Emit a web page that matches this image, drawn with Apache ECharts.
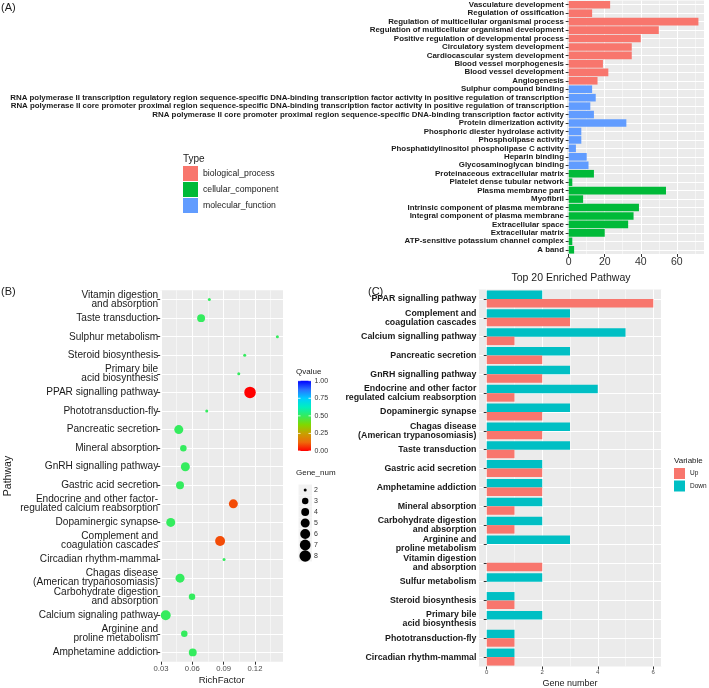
<!DOCTYPE html>
<html><head><meta charset="utf-8">
<script src="https://cdn.jsdelivr.net/npm/echarts@6/dist/echarts.min.js"></script>
<style>html,body{margin:0;padding:0;background:#fff}#c{width:709px;height:688px}</style>
</head><body><div id="c"></div>
<script>
// ---------- Panel A data ----------
const termsA = [
  'Vasculature development','Regulation of ossification','Regulation of multicellular organismal process',
  'Regulation of multicellular organismal development','Positive regulation of developmental process',
  'Circulatory system development','Cardiocascular system development','Blood vessel morphogenesis',
  'Blood vessel development','Angiogenesis','Sulphur compound binding',
  'RNA polymerase II transcription regulatory region sequence-specific DNA-binding transcription factor activity in positive regulation of transcription',
  'RNA polymerase II core promoter proximal region sequence-specific DNA-binding transcription factor activity in positive regulation of transcription',
  'RNA polymerase II core promoter proximal region sequence-specific DNA-binding transcription factor activity',
  'Protein dimerization activity','Phosphoric diester hydrolase activity','Phospholipase activity',
  'Phosphatidylinositol phospholipase C activity','Heparin binding','Glycosaminoglycan binding',
  'Proteinaceous extracellular matrix','Platelet dense tubular network','Plasma membrane part','Myofibril',
  'Intrinsic component of plasma membrane','Integral component of plasma membrane','Extracellular space',
  'Extracellular matrix','ATP-sensitive potassium channel complex','A band'
];
const countsA = [23,13,72,50,40,35,35,19,22,16,13,15,12,14,32,7,7,4,10,11,14,2,54,8,39,36,33,20,2,3];
const typesA = ['BP','BP','BP','BP','BP','BP','BP','BP','BP','BP',
  'MF','MF','MF','MF','MF','MF','MF','MF','MF','MF',
  'CC','CC','CC','CC','CC','CC','CC','CC','CC','CC'];
const typeKeys = ['BP','CC','MF'];
const typeNames = ['biological_process','cellular_component','molecular_function'];
const typeColors = ['#F8766D','#00BA38','#619CFF'];

// ---------- Panel B data ----------
const pathwaysB = [
  'Vitamin digestion\nand absorption','Taste transduction','Sulphur metabolism','Steroid biosynthesis',
  'Primary bile\nacid biosynthesis','PPAR signalling pathway','Phototransduction-fly','Pancreatic secretion',
  'Mineral absorption','GnRH signalling pathway','Gastric acid secretion',
  'Endocrine and other factor-\nregulated calcium reabsorption','Dopaminergic synapse',
  'Complement and\ncoagulation cascades','Circadian rhythm-mammal',
  'Chagas disease\n(American trypanosomiasis)','Carbohydrate digestion\nand absorption',
  'Calcium signaling pathway','Arginine and\nproline metabolism','Amphetamine addiction'
];
const richB = [0.0763,0.0684,0.1415,0.1102,0.1045,0.1153,0.0738,0.0470,0.0514,0.0533,0.0482,
  0.0993,0.0393,0.0866,0.0904,0.0482,0.0597,0.0345,0.0523,0.0604];
const geneB = [2,4,2,2,2,8,2,5,3,5,4,5,5,6,2,5,3,6,3,4];
const qB = [0.5,0.5,0.5,0.5,0.5,0.0,0.5,0.5,0.5,0.5,0.5,0.09,0.5,0.09,0.5,0.5,0.5,0.5,0.5,0.5];
const qTicks = [0, 0.25, 0.5, 0.75, 1];
const qColors = ['#FF0000','#EE6A0A','#C8A000','#80D800','#34EC5E','#00EFC0','#00CCFF','#2A70FF','#0000FF'];
const geneLegend = [2,3,4,5,6,7,8];

// ---------- Panel C data ----------
const pathwaysC = [
  'PPAR signalling pathway','Complement and\ncoagulation cascades','Calcium signalling pathway',
  'Pancreatic secretion','GnRH signalling pathway','Endocrine and other factor\nregulated calcium reabsorption',
  'Dopaminergic synapse','Chagas disease\n(American trypanosomiasis)','Taste transduction',
  'Gastric acid secretion','Amphetamine addiction','Mineral absorption',
  'Carbohydrate digestion\nand absorption','Arginine and\nproline metabolism','Vitamin digestion\nand absorption',
  'Sulfur metabolism','Steroid biosynthesis','Primary bile\nacid biosynthesis','Phototransduction-fly',
  'Circadian rhythm-mammal'
];
const upC   = [6,3,1,2,2,1,2,2,1,2,2,1,1,0,2,0,1,0,1,1];
const downC = [2,3,5,3,3,4,3,3,3,2,2,2,2,3,0,2,1,2,1,1];

// ---------- helpers ----------
const FONT = '"Liberation Sans", Arial, Helvetica, sans-serif';
function dotSize(n){ const s = 1 + 5*Math.sqrt((n-2)/6); return 1.3 + 1.7*s; }
function txt(text, x, y, size, o){
  o = o || {};
  return { type:'text', x:x, y:y, rotation:o.rot||0, silent:true, z:10,
    style:{ text:text, fill:o.color||'#1a1a1a', font:(o.weight||'normal')+' '+size+'px '+FONT,
      textAlign:o.align||'left', textVerticalAlign:'middle', verticalAlign:'middle' } };
}
const gridLine = {show:true, lineStyle:{color:'#ffffff', width:1}};
const minorLine = {show:true, lineStyle:{color:'#ffffff', width:0.5}};
const tickStyle = {show:true, length:3, lineStyle:{color:'#333333', width:1}};

function valueAxis(grid, min, max, fs, color, fmt){
  return { type:'value', gridIndex:grid, min:min, max:max, splitNumber:4,
    axisLine:{show:false}, axisTick:tickStyle,
    axisLabel:{fontSize:fs, color:color, margin:3, showMinLabel:false, showMaxLabel:false, fontFamily:FONT,
      formatter: fmt || (v => String(v))},
    splitLine:gridLine, minorTick:{show:false, splitNumber:2}, minorSplitLine:minorLine };
}
function catAxis(grid, data, fs, weight, lh){
  return { type:'category', gridIndex:grid, data:data, inverse:true,
    axisLine:{show:false},
    axisTick:{show:true, alignWithLabel:true, length:3, lineStyle:{color:'#333333'}},
    axisLabel:{interval:0, fontSize:fs, fontWeight:weight, color:'#1a1a1a', margin:2, lineHeight:lh, fontFamily:FONT},
    splitLine:{show:true, alignWithLabel:true, lineStyle:{color:'#ffffff', width:1}} };
}

// ---------- series ----------
const seriesA = typeKeys.map((k,i)=>({
  name:typeNames[i], type:'bar', stack:'A', xAxisIndex:0, yAxisIndex:0,
  barCategoryGap:'10%', itemStyle:{color:typeColors[i]}, z:3,
  data: countsA.map((v,j)=> typesA[j]===k ? v : '-')
}));
const seriesB = {
  name:'RichFactor', type:'scatter', xAxisIndex:1, yAxisIndex:1, z:3,
  data: richB.map((v,i)=>[v, i, geneB[i], qB[i]]),
  symbolSize: d => dotSize(d[2]),
  itemStyle:{opacity:1}
};
const seriesC = [
  {name:'Down', type:'bar', xAxisIndex:2, yAxisIndex:2, data:downC, itemStyle:{color:'#00BFC4'},
   barGap:'0%', barCategoryGap:'10%', z:3},
  {name:'Up', type:'bar', xAxisIndex:2, yAxisIndex:2, data:upC, itemStyle:{color:'#F8766D'},
   barGap:'0%', barCategoryGap:'10%', z:3}
];

// ---------- legends drawn as graphics (B) ----------
const g = [];
g.push(txt('(A)', 1, 8, 11));
g.push(txt('(B)', 1, 292, 11));
g.push(txt('(C)', 368, 292, 11));
g.push(txt('Top 20 Enriched Pathway', 571, 278, 10.5, {align:'center'}));
g.push(txt('Type', 183, 159, 10));
g.push(txt('Pathway', 8, 476, 10.5, {rot:Math.PI/2, align:'center'}));
g.push(txt('RichFactor', 221.6, 680, 9.5, {align:'center'}));
g.push(txt('Gene number', 570, 684, 9, {align:'center'}));
g.push(txt('Variable', 674, 461, 8));
// Qvalue colourbar
const cbX = 298, cbW = 13, cbTop = 380.7, cbBot = 451;
g.push(txt('Qvalue', 296, 371.5, 8));
g.push({type:'rect', silent:true, z:10, shape:{x:cbX, y:cbTop, width:cbW, height:cbBot-cbTop},
  style:{fill:new echarts.graphic.LinearGradient(0,1,0,0, qColors.map((c,i)=>({offset:i/(qColors.length-1), color:c})))}});
qTicks.forEach(q=>{
  const y = cbBot - q*(cbBot-cbTop);
  g.push({type:'line', silent:true, z:11, shape:{x1:cbX, y1:y, x2:cbX+2.5, y2:y}, style:{stroke:'#fff', lineWidth:0.8}});
  g.push({type:'line', silent:true, z:11, shape:{x1:cbX+cbW-2.5, y1:y, x2:cbX+cbW, y2:y}, style:{stroke:'#fff', lineWidth:0.8}});
  g.push(txt(q.toFixed(2), cbX+cbW+3.5, y, 7, {color:'#333'}));
});
// Gene_num size legend
g.push(txt('Gene_num', 296, 473, 8));
geneLegend.forEach((n,i)=>{
  const y = 490 + 11*i;
  g.push({type:'rect', silent:true, z:10, shape:{x:298.5, y:y-5.5, width:13.5, height:11}, style:{fill:'#F2F2F2'}});
  g.push({type:'circle', silent:true, z:11, shape:{cx:305.2, cy:y, r:dotSize(n)/2}, style:{fill:'#000'}});
  g.push(txt(String(n), 314, y, 7, {color:'#333'}));
});

const option = {
  animation:false,
  textStyle:{fontFamily:FONT},
  grid:[
    {left:566, top:0.5, width:138, height:253.5, show:true, backgroundColor:'#EBEBEB', borderWidth:0},
    {left:160.2, top:290.3, width:122.8, height:371.4, show:true, backgroundColor:'#EBEBEB', borderWidth:0},
    {left:478.4, top:289.5, width:183.2, height:377, show:true, backgroundColor:'#EBEBEB', borderWidth:0}
  ],
  xAxis:[
    valueAxis(0, -1.5, 75.1, 10.5, '#333333'),
    valueAxis(1, 0.0292, 0.1469, 7.7, '#4D4D4D', v => v.toFixed(2)),
    valueAxis(2, -0.3, 6.3, 6, '#4D4D4D')
  ],
  yAxis:[
    catAxis(0, termsA, 7.9, 'bold', 9),
    catAxis(1, pathwaysB, 10.1, 'normal', 9),
    catAxis(2, pathwaysC, 8.8, 'bold', 9)
  ],
  legend:[
    {data:typeNames, orient:'vertical', left:183, top:166, itemWidth:15, itemHeight:15, itemGap:1,
     icon:'rect', padding:0, selectedMode:false, textStyle:{fontSize:8.7, color:'#1a1a1a', fontFamily:FONT}},
    {data:['Up','Down'], orient:'vertical', left:674, top:468, itemWidth:11, itemHeight:11, itemGap:1.5,
     icon:'rect', padding:0, selectedMode:false, itemStyle:{borderWidth:0}, textStyle:{fontSize:6.5, color:'#1a1a1a', fontFamily:FONT}}
  ],
  visualMap:[{type:'continuous', show:false, min:0, max:1, dimension:3, seriesIndex:3, inRange:{color:qColors}}],
  series:[...seriesA, seriesB, ...seriesC],
  graphic:g
};
const chart = echarts.init(document.getElementById('c'), null, {renderer:'canvas'});
chart.setOption(option);
</script></body></html>
